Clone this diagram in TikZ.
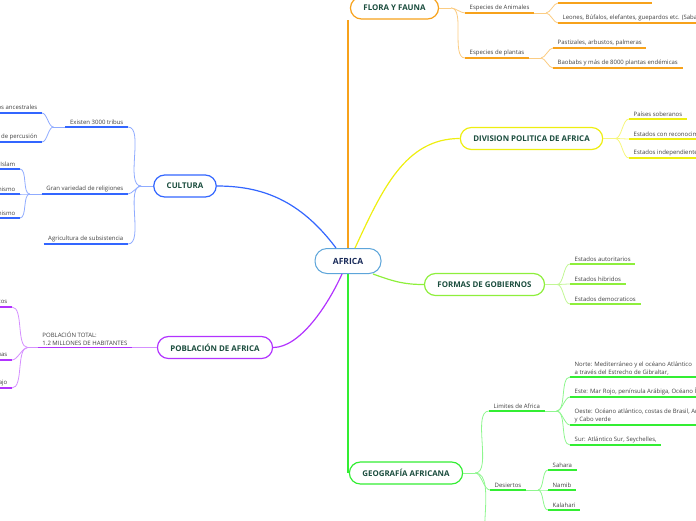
\documentclass[tikz,border=0pt]{standalone}
\usepackage{fontspec}
\setmainfont{Open Sans}
\definecolor{cafrica}{HTML}{5DA5DA}
\definecolor{corange}{HTML}{F7A21B}
\definecolor{cyellow}{HTML}{EEEE10}
\definecolor{clime}{HTML}{8EEF3C}
\definecolor{cgreen}{HTML}{33EE33}
\definecolor{cblue}{HTML}{3366FF}
\definecolor{cpurple}{HTML}{B233FF}
\definecolor{ctitle}{HTML}{1B4D3E}
\definecolor{cnavy}{HTML}{1A2B5A}
\definecolor{ctext}{HTML}{404040}
\tikzset{
  root/.style={draw=cafrica, line width=1pt, fill=white, rounded corners=12pt,
    minimum width=66pt, minimum height=25pt, font=\fontsize{8.5}{10}\selectfont\bfseries, text=cnavy},
  branch/.style={draw=#1, line width=1.2pt, fill=white, rounded corners=11pt,
    minimum height=22pt, inner xsep=13pt, font=\fontsize{7.9}{9}\selectfont\bfseries, text=ctitle},
  leaf/.style={inner xsep=4.5pt, inner ysep=2pt, font=\fontsize{6}{8}\selectfont,
    text=ctext, align=left},
  uline/.style={draw=#1, line width=1.4pt},
  conn/.style={draw=#1!55, line width=0.8pt},
  mainline/.style={draw=#1, line width=1.2pt},
}

\begin{document}
\begin{tikzpicture}[x=1pt,y=-1pt]
\clip (0,0) rectangle (696,520);

% root and main branches
\node[root] (africa) at (348,261) {AFRICA};
\node[branch=corange] (flora) at (394.5,8) {FLORA Y FAUNA};
\node[branch=cyellow] (division) at (531.5,138.5) {DIVISION POLITICA DE AFRICA};
\node[branch=clime] (formas) at (484.5,284.5) {FORMAS DE GOBIERNOS};
\node[branch=cgreen] (geo) at (406,473) {GEOGRAFÍA AFRICANA};
\node[branch=cblue] (cultura) at (185,186) {CULTURA};
\node[branch=cpurple] (poblacion) at (215,347.5) {POBLACIÓN DE AFRICA};

\draw[mainline=corange] (africa.north) -- (africa.north |- flora.south);
\draw[mainline=cgreen] (africa.south) -- (africa.south |- geo.west);
\draw[mainline=cblue] ([xshift=-12pt]africa.north) .. controls (300,200) and (262,186) .. (cultura.east);
\draw[mainline=cyellow] ([xshift=7pt]africa.north) .. controls (382,190) and (405,138.5) .. (division.west);
\draw[mainline=clime] ([xshift=25pt]africa.south) .. controls (395,282) and (405,284.5) .. (formas.west);
\draw[mainline=cpurple] ([xshift=-6pt]africa.south) .. controls (328,305) and (300,347.5) .. (poblacion.east);

% flora y fauna
\node[leaf, anchor=south west] (anim) at (465,13) {Especies de Animales};
\node[leaf, anchor=south west] (plant) at (465,58) {Especies de plantas};
\node[leaf, anchor=south west, minimum width=94pt] (fl1) at (558,3) {};
\node[leaf, anchor=south west] (fl2) at (558,23) {Leones, Búfalos, elefantes, guepardos etc. (Sabana)};
\node[leaf, anchor=south west] (fl3) at (553,48) {Pastizales, arbustos, palmeras};
\node[leaf, anchor=south west] (fl4) at (553,68) {Baobabs y más de 8000 plantas endémicas};
\coordinate (flj) at ([xshift=12pt]flora.east);
\coordinate (anj) at ([xshift=12pt]anim.south east);
\coordinate (plj) at ([xshift=12pt]plant.south east);
\draw[conn=corange] (flora.east) -- (flj);
\draw[conn=corange] (anim.south east) -- (anj);
\draw[conn=corange] (plant.south east) -- (plj);
\foreach \n in {anim,plant} \draw[conn=corange] (flj) to[out=0,in=180,looseness=0.7] (\n.south west);
\foreach \n in {fl1,fl2} \draw[conn=corange] (anj) to[out=0,in=180,looseness=0.7] (\n.south west);
\foreach \n in {fl3,fl4} \draw[conn=corange] (plj) to[out=0,in=180,looseness=0.7] (\n.south west);
\foreach \n in {anim,plant,fl1,fl2,fl3,fl4} \draw[uline=corange] (\n.south west) -- (\n.south east);

% division politica
\node[leaf, anchor=south west] (dv1) at (629,119) {Países soberanos};
\node[leaf, anchor=south west] (dv2) at (629,139) {Estados con reconocimiento limitado};
\node[leaf, anchor=south west] (dv3) at (629,158) {Estados independientes de facto};
\coordinate (dvj) at ([xshift=12pt]division.east);
\draw[conn=cyellow] (division.east) -- (dvj);
\foreach \n in {dv1,dv2,dv3} {
  \draw[conn=cyellow] (dvj) to[out=0,in=180,looseness=0.7] (\n.south west);
  \draw[uline=cyellow] (\n.south west) -- (\n.south east);
}

% formas de gobiernos
\node[leaf, anchor=south west] (fg1) at (570,264) {Estados autoritarios};
\node[leaf, anchor=south west] (fg2) at (570,284) {Estados hibridos};
\node[leaf, anchor=south west] (fg3) at (570,304) {Estados democraticos};
\coordinate (fgj) at ([xshift=12pt]formas.east);
\draw[conn=clime] (formas.east) -- (fgj);
\foreach \n in {fg1,fg2,fg3} {
  \draw[conn=clime] (fgj) to[out=0,in=180,looseness=0.7] (\n.south west);
  \draw[uline=clime] (\n.south west) -- (\n.south east);
}

% geografia africana
\node[leaf, anchor=south west] (lim) at (489,411) {Limites de Africa};
\node[leaf, anchor=south west] (des) at (490,490) {Desiertos};
\coordinate (geo3) at (495,560);
\node[leaf, anchor=south west, minimum width=126pt] (lm1) at (570,377) {Norte: Mediterráneo y el océano Atlántico\\a través del Estrecho de Gibraltar,};
\node[leaf, anchor=south west] (lm2) at (570,397) {Este: Mar Rojo, península Arábiga, Océano Índico};
\node[leaf, anchor=south west] (lm3) at (570,425) {Oeste: Océano atlántico, costas de Brasil, Argentina\\y Cabo verde};
\node[leaf, anchor=south west] (lm4) at (570,445) {Sur: Atlántico Sur, Seychelles,};
\node[leaf, anchor=south west] (ds1) at (548,470) {Sahara};
\node[leaf, anchor=south west] (ds2) at (548,490) {Namib};
\node[leaf, anchor=south west] (ds3) at (548,510) {Kalahari};
\coordinate (gej) at ([xshift=12pt]geo.east);
\coordinate (lmj) at ([xshift=12pt]lim.south east);
\coordinate (dsj) at ([xshift=12pt]des.south east);
\draw[conn=cgreen] (geo.east) -- (gej);
\draw[conn=cgreen] (lim.south east) -- (lmj);
\draw[conn=cgreen] (des.south east) -- (dsj);
\foreach \n in {lim.south west,des.south west,geo3} \draw[conn=cgreen] (gej) to[out=0,in=180,looseness=0.7] (\n);
\foreach \n in {lm1,lm2,lm3,lm4} \draw[conn=cgreen] (lmj) to[out=0,in=180,looseness=0.7] (\n.south west);
\foreach \n in {ds1,ds2,ds3} \draw[conn=cgreen] (dsj) to[out=0,in=180,looseness=0.7] (\n.south west);
\foreach \n in {lim,des,lm1,lm2,lm3,lm4,ds1,ds2,ds3} \draw[uline=cgreen] (\n.south west) -- (\n.south east);

% cultura
\node[leaf, anchor=south east] (tri) at (128,127) {Existen 3000 tribus};
\node[leaf, anchor=south east] (rel) at (128,194) {Gran variedad de religiones};
\node[leaf, anchor=south east] (agr) at (128,244) {Agricultura de subsistencia};
\node[leaf, anchor=south east] (tr1) at (42,113) {Creencias y ritos ancestrales};
\node[leaf, anchor=south east] (tr2) at (42,142) {Música e instrumentos de percusión};
\node[leaf, anchor=south east] (rl1) at (20,169) {Islam};
\node[leaf, anchor=south east] (rl2) at (20,194) {Cristianismo};
\node[leaf, anchor=south east] (rl3) at (20,218) {Animismo};
\coordinate (cuj) at ([xshift=-12pt]cultura.west);
\coordinate (trj) at ([xshift=-12pt]tri.south west);
\coordinate (rlj) at ([xshift=-12pt]rel.south west);
\draw[conn=cblue] (cultura.west) -- (cuj);
\draw[conn=cblue] (tri.south west) -- (trj);
\draw[conn=cblue] (rel.south west) -- (rlj);
\foreach \n in {tri,rel,agr} \draw[conn=cblue] (cuj) to[out=180,in=0,looseness=0.7] (\n.south east);
\foreach \n in {tr1,tr2} \draw[conn=cblue] (trj) to[out=180,in=0,looseness=0.7] (\n.south east);
\foreach \n in {rl1,rl2,rl3} \draw[conn=cblue] (rlj) to[out=180,in=0,looseness=0.7] (\n.south east);
\foreach \n in {tri,rel,agr,tr1,tr2,rl1,rl2,rl3} \draw[uline=cblue] (\n.south west) -- (\n.south east);

% poblacion
\node[leaf, anchor=south east] (ptot) at (132,347.5) {POBLACIÓN TOTAL:\\ 1.2 MILLONES DE HABITANTES};
\node[leaf, anchor=south east] (pb1) at (12,307) {Diversos grupos étnicos};
\node[leaf, anchor=south east] (pb2) at (12,360) {Más de 2000 lenguas};
\node[leaf, anchor=south east] (pb3) at (12,388) {Índice de desarrollo bajo};
\coordinate (ptj) at ([xshift=-10pt]ptot.south west);
\draw[conn=cpurple] (poblacion.west) -- (ptot.south east);
\draw[conn=cpurple] (ptot.south west) -- (ptj);
\foreach \n in {pb1,pb2,pb3} \draw[conn=cpurple] (ptj) to[out=180,in=0,looseness=0.7] (\n.south east);
\foreach \n in {ptot,pb1,pb2,pb3} \draw[uline=cpurple] (\n.south west) -- (\n.south east);
\end{tikzpicture}
\end{document}
